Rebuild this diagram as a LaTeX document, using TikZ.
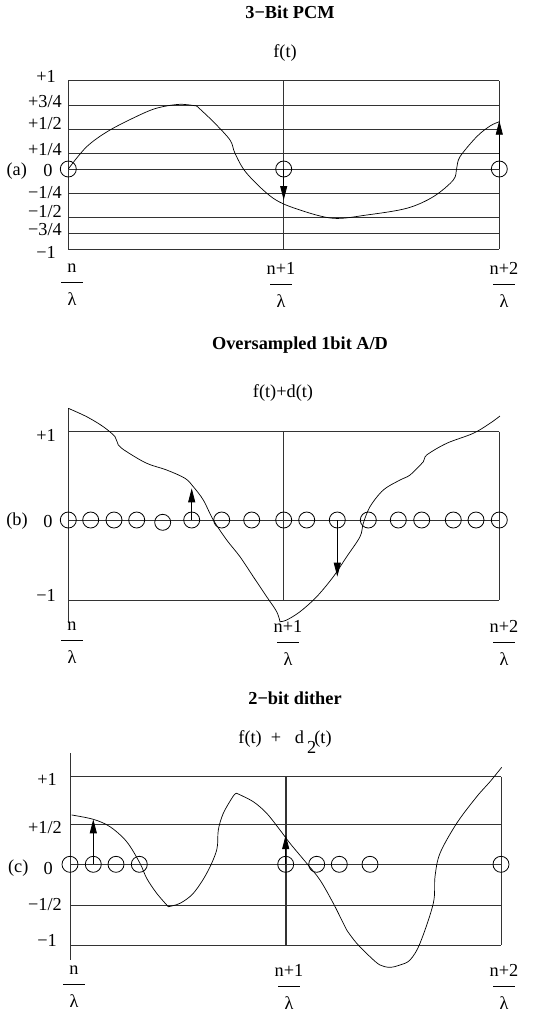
\documentclass[tikz,border=0pt]{standalone}
\usepackage{fontspec}
\setmainfont{Liberation Serif}
\usetikzlibrary{arrows.meta}
\newcommand{\slotfrac}[1]{#1\\[-11pt]\rule{22pt}{0.9pt}\\[2pt]λ}

\begin{document}
\begin{tikzpicture}[
  x=1pt, y=-1pt,
  font=\fontsize{18.3}{21}\selectfont,
  lvl/.style={draw=black!80, line width=0.9pt},
  wave/.style={line width=0.7pt, tension=0.55},
  samp/.style={circle, draw, line width=0.8pt, minimum size=16pt, inner sep=0pt},
  qarr/.style={-{Triangle[length=14pt,width=7pt]}, line width=0.8pt},
  tick/.style={inner sep=0pt},
  slot/.style={align=center, inner sep=0pt},
  ttl/.style={font=\fontsize{18.3}{21}\selectfont\bfseries},
]
\useasboundingbox (0,0) rectangle (544,1013);

% (a) 3-bit PCM
\node[ttl] (ta) at (290,12) {3−Bit PCM};
\node (fa) at (285,53) {f(t)};
\foreach \yy in {80.7,105,129,153,169,193,217,233.3,249.3}
  \draw[lvl] (68.3,\yy) -- (499.3,\yy);
\foreach \xx in {68.3,283.7,499.3}
  \draw[lvl] (\xx,80.7) -- (\xx,249.3);
\node[tick] (la1) at (46,76) {+1};
\node[tick] (la2) at (45,101.7) {+3/4};
\node[tick] (la3) at (45,124) {+1/2};
\node[tick] (la4) at (45,150) {+1/4};
\node[tick] (la5) at (48,170.7) {0};
\node[tick] (la6) at (45,192.7) {−1/4};
\node[tick] (la7) at (45,211.7) {−1/2};
\node[tick] (la8) at (45,230) {−3/4};
\node[tick] (la9) at (46,252) {−1};
\node[tick] (pa) at (16.7,170.7) {(a)};
\node[samp] (a0) at (68.3,169) {};
\node[samp] (a1) at (283.7,169) {};
\node[samp] (a2) at (499.3,169) {};
\coordinate (qa1) at (283.7,200);
\coordinate (qa2) at (499.3,120.7);
\draw[qarr] (a1.center) -- (qa1);
\draw[qarr] (a2.center) -- (qa2);
\draw[wave] plot[smooth] coordinates {(68.3,169) (86.7,146.7) (110,130) (143.3,113.3)
    (160,107.3) (180,104.3) (196.7,106)}
  -- plot[smooth] coordinates {(196.7,106) (213.3,121.7) (230,140) (235,153.3) (246.7,173.3)
    (273.3,198.3) (300,210) (333.3,218.3) (366.7,215) (406.7,208.3) (433.3,196.7) (453.3,180)
    (456.7,168.3) (460,156.7) (476.7,136.7) (490,126) (499.3,121.7)};
\node[slot] (sa0) at (72,285) {\slotfrac{n}};
\node[slot] (sa1) at (281,285) {\slotfrac{n+1}};
\node[slot] (sa2) at (504,285) {\slotfrac{n+2}};

% (b) oversampled 1 bit
\node[ttl] (tb) at (300,345) {Oversampled 1bit A/D};
\node (fb) at (283,393.3) {f(t)+d(t)};
\foreach \yy in {431.7,520,600}
  \draw[lvl] (68.3,\yy) -- (499.3,\yy);
\draw[lvl] (68.3,408.3) -- (68.3,623.3);
\foreach \xx in {283.7,499.3}
  \draw[lvl] (\xx,431.7) -- (\xx,600);
\node[tick] (lb1) at (46,435) {+1};
\node[tick] (lb2) at (48,521.5) {0};
\node[tick] (lb3) at (46,595) {−1};
\node[tick] (pb) at (17,521.5) {(b)};
\foreach \xx/\yy [count=\i] in {68.3/520,90.7/520,114/520,136.7/520,162.7/522.3,191.7/520,
    221.7/520,251.7/520,283.7/520,306.7/520,337.3/520,368.3/520,398.3/520,421.7/520,
    453.3/520,476/520,499.3/520}
  \node[samp] (b\i) at (\xx,\yy) {};
\coordinate (qb1) at (191.7,488.3);
\coordinate (qb2) at (337.3,576.7);
\draw[qarr] (b6.center) -- (qb1);
\draw[qarr] (b11.center) -- (qb2);
\draw[wave] plot[smooth] coordinates {(68.3,408.3) (86.7,416.7) (103.3,426.7) (115,436.7)
    (118.3,445) (126.7,451.7) (146.7,463.3) (166.7,470) (185,478.3) (193.3,486.7) (203.3,500)
    (213.3,520) (226.7,540) (240,556.7) (253.3,576.7) (266.7,596.7) (276.7,611.7) (280,621.7)}
  -- plot[smooth] coordinates {(280,621.7) (286.7,620) (300,611.7) (316.7,596.7) (333.3,576.7)
    (346.7,556.7) (360,536.7) (363.3,523.3) (370,506.7) (383.3,490) (400,480) (410,475)
    (423.3,461.7) (426.7,455) (446.7,443.3) (473.3,433.3) (490,423.3) (500,416)};
\node[slot] (sb0) at (72,643) {\slotfrac{n}};
\node[slot] (sb1) at (288,643) {\slotfrac{n+1}};
\node[slot] (sb2) at (504,643) {\slotfrac{n+2}};

% (c) 2-bit dither
\node[ttl] (tc) at (295,698.3) {2−bit dither};
\node (fc) at (285,741.7) {f(t)\ \ +\ \ \ d\,\raisebox{-10pt}{2}\kern-2pt(t)};
\foreach \yy in {776.7,824.3,864.3,905,945}
  \draw[lvl] (70,\yy) -- (501,\yy);
\draw[lvl] (70,753.3) -- (70,960);
\draw[lvl] (501,776.7) -- (501,945);
\draw[lvl, line width=1.6pt] (285.7,776.7) -- (285.7,945);
\node[tick] (lc1) at (47,779.3) {+1};
\node[tick] (lc2) at (45,827.7) {+1/2};
\node[tick] (lc3) at (48.3,868.3) {0};
\node[tick] (lc4) at (45,905) {−1/2};
\node[tick] (lc5) at (47,940) {−1};
\node[tick] (pc) at (18.3,868.3) {(c)};
\foreach \xx [count=\i] in {70,93.3,116,139.3,285.7,316.7,339.3,370,501}
  \node[samp] (c\i) at (\xx,864.3) {};
\coordinate (qc1) at (93.3,819.3);
\coordinate (qc2) at (285.7,835);
\draw[qarr] (c2.center) -- (qc1);
\draw[qarr] (c5.center) -- (qc2);
\draw[wave] plot[smooth] coordinates {(71.7,815) (93.3,819.3) (110,826.7) (126.7,841.7)
    (140,863.3) (146.7,878.3) (156.7,893.3) (168.3,906.7)}
  -- plot[smooth] coordinates {(168.3,906.7) (180,903.3) (193.3,893.3) (206.7,873.3)
    (216.7,850) (218.3,830) (223.3,813.3) (233.3,796) (236.7,793.3)}
  -- plot[smooth] coordinates {(236.7,793.3) (253.3,801.7) (266.7,813.3) (280,830) (290,843.3)
    (306.7,863.3) (320,880) (333.3,903.3) (343.3,923.3) (346.7,930) (356.7,943.3) (370,956.7)
    (380,965) (390,967.3) (400,965) (410,960) (420,943.3) (433.3,903.3) (435,876.7)
    (440,853.3) (456.7,823.3) (476.7,796.7) (490,781.7) (501.7,767.3)};
\node[slot] (sc0) at (74,987) {\slotfrac{n}};
\node[slot] (sc1) at (289,987) {\slotfrac{n+1}};
\node[slot] (sc2) at (504,987) {\slotfrac{n+2}};
\end{tikzpicture}
\end{document}
